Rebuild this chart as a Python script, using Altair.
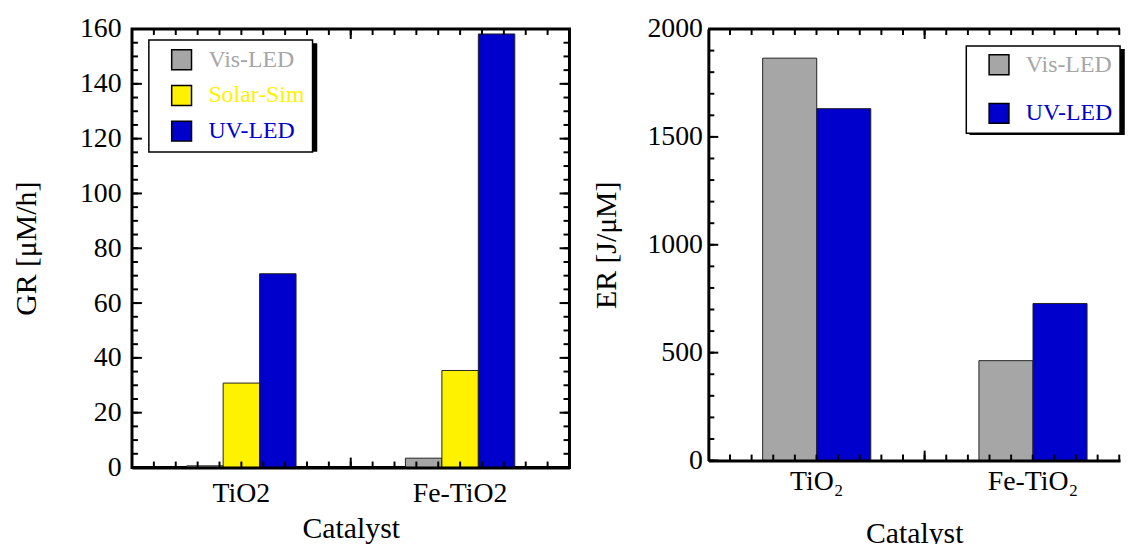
import altair as alt
import pandas as pd

# ---- data ----
categories = ["TiO2", "Fe-TiO2"]
categories_er = ["TiO₂", "Fe-TiO₂"]

series_gr = ["Vis-LED", "Solar-Sim", "UV-LED"]
gr_vis = [0.6, 3.4]
gr_solar = [30.8, 35.4]
gr_uv = [70.7, 158.2]

series_er = ["Vis-LED", "UV-LED"]
er_vis = [1865, 463]
er_uv = [1631, 728]

# axis tick values
gr_major_ticks = [0, 20, 40, 60, 80, 100, 120, 140, 160]
gr_minor_ticks = list(range(0, 161, 5))
er_major_ticks = [0, 500, 1000, 1500, 2000]
er_minor_ticks = list(range(0, 2001, 100))
x_minor_ticks = list(range(1, 20))   # 20 subdivisions of the category axis
x_major_ticks = [10]                 # boundary between the two categories

series_colors = {"Vis-LED": "#a6a6a6", "Solar-Sim": "#fff200", "UV-LED": "#0000cc"}

FONT = "Liberation Serif"
MAJOR = 10
MINOR = 6


def make_df(cats, series, values):
    rows = []
    for s, vals in zip(series, values):
        for c, v in zip(cats, vals):
            rows.append({"cat": c, "series": s, "value": v})
    return pd.DataFrame(rows)


df_gr = make_df(categories, series_gr, [gr_vis, gr_solar, gr_uv])
df_er = make_df(categories_er, series_er, [er_vis, er_uv])


def label_color_expr(series):
    expr = "'#000000'"
    for s in reversed(series):
        expr = f"datum.value === '{s}' ? '{series_colors[s]}' : ({expr})"
    return expr


def panel(df, cats, series, ymax, major_ticks, minor_ticks, w, h, full_w, ytitle,
          lx, ly, row_pad, leg_pad, sym_off, ylabel_pad, ytitle_pad, xlabel_pad, xtitle_pad,
          pad_outer, band_align, right_ticks, own_frame):
    leg_common = dict(orient="none", title=None, symbolType="square", symbolSize=400,
                      symbolStrokeColor="black", symbolStrokeWidth=1.5,
                      labelFont=FONT, labelFontSize=24, labelOffset=15,
                      symbolOffset=sym_off, padding=leg_pad, rowPadding=row_pad,
                      strokeColor="black", direction="vertical")
    main_leg = alt.Legend(legendX=lx, legendY=ly, fillColor="white", symbolOpacity=1,
                          labelColor=alt.ExprRef(expr=label_color_expr(series)),
                          **leg_common)
    shadow_leg = alt.Legend(legendX=lx + 4, legendY=ly + 4, fillColor="black", symbolOpacity=0,
                            labelOpacity=0, **leg_common)

    base = alt.Chart(df)
    shadow = base.mark_point(opacity=0).encode(
        color=alt.Color("series:N", sort=series,
                        scale=alt.Scale(domain=series, range=["black"] * len(series)),
                        legend=shadow_leg)
    )
    band = alt.Scale(paddingInner=0.5, paddingOuter=pad_outer, align=band_align)
    bars = base.mark_bar(stroke="#222222", strokeWidth=1).encode(
        x=alt.X("cat:N", sort=cats, scale=band,
                axis=alt.Axis(orient="bottom", title="Catalyst", labelAngle=0, ticks=False,
                              domain=True, domainColor="black", domainWidth=3, zindex=1,
                              labelPadding=xlabel_pad, titlePadding=xtitle_pad, grid=False)),
        xOffset=alt.XOffset("series:N", sort=series,
                            scale=alt.Scale(domain=series, paddingInner=0, paddingOuter=0)),
        y=alt.Y("value:Q", scale=alt.Scale(domain=[0, ymax], nice=False),
                axis=alt.Axis(orient="left", title=ytitle, values=major_ticks, format="d",
                              ticks=False, domain=own_frame, domainColor="black",
                              domainWidth=3, grid=False, labelPadding=ylabel_pad,
                              titlePadding=ytitle_pad, zindex=1)),
        fill=alt.Fill("series:N", sort=series,
                      scale=alt.Scale(domain=series, range=[series_colors[s] for s in series]),
                      legend=main_leg),
    )

    yscale = alt.Scale(domain=[0, ymax], nice=False)
    xscale = alt.Scale(domain=[0, 20], range=[0, full_w], nice=False, zero=False)

    def yticks(vals, x0, x1):
        return alt.Chart(pd.DataFrame({"v": vals})).mark_rule(color="black", strokeWidth=2).encode(
            y=alt.Y("v:Q", scale=yscale, axis=None), x=alt.value(x0), x2=alt.value(x1))

    def xticks(vals, y0, y1):
        return alt.Chart(pd.DataFrame({"v": vals})).mark_rule(color="black", strokeWidth=2).encode(
            x=alt.X("v:Q", scale=xscale, axis=None), y=alt.value(y0), y2=alt.value(y1))

    layers = [shadow, bars]
    if own_frame:
        # top edge of the frame (the right edge lies beyond the picture in the reference)
        layers.append(alt.Chart(pd.DataFrame({"v": [0]})).mark_rule(color="black", strokeWidth=3)
                      .encode(x=alt.value(0), x2=alt.value(w), y=alt.value(0)))
    layers += [yticks(major_ticks, 0, MAJOR), yticks(minor_ticks, 0, MINOR)]
    if right_ticks:
        layers += [yticks(major_ticks, w - MAJOR, w), yticks(minor_ticks, w - MINOR, w)]
    layers += [
        xticks(x_minor_ticks, h - MINOR, h), xticks(x_major_ticks, h - MAJOR, h),
        xticks(x_minor_ticks, 0, MINOR), xticks(x_major_ticks, 0, MAJOR),
    ]
    ch = alt.layer(*layers).resolve_scale(
        x="independent", y="independent", color="independent", fill="independent"
    ).resolve_axis(x="independent", y="independent").properties(width=w, height=h)
    if own_frame:
        ch = ch.properties(view=alt.ViewBackground(stroke="transparent", fill="white"))
    return ch


left = panel(df_gr, categories, series_gr, 160, gr_major_ticks, gr_minor_ticks, 441, 442, 441,
             "GR [μM/h]", 17, 11, 10, 8, 13, 11, 38, 12, 7,
             0.25, 0.5, True, False)
right = panel(df_er, categories_er, series_er, 2000, er_major_ticks, er_minor_ticks, 415, 435, 436,
              "ER [J/μM]", 260, 17, 23, 7, 14, 6, 26, 7, 24,
              0.2018, 0.622, False, True)

chart = alt.hconcat(left, right, spacing=17).resolve_scale(
    x="independent", y="independent", xOffset="independent",
    color="independent", fill="independent"
).resolve_legend(color="independent", fill="independent").properties(
    padding={"left": 2, "top": 3, "right": 0, "bottom": 0}
).configure(
    font=FONT,
).configure_view(
    stroke="black", strokeWidth=3, fill="white"
).configure_axis(
    labelFont=FONT, labelFontSize=28, labelColor="black",
    titleFont=FONT, titleFontSize=30, titleFontWeight="normal", titleColor="black",
).configure_legend(
    strokeWidth=1.5
)

chart.save("out.html", embed_options={"renderer": "svg", "actions": False})
